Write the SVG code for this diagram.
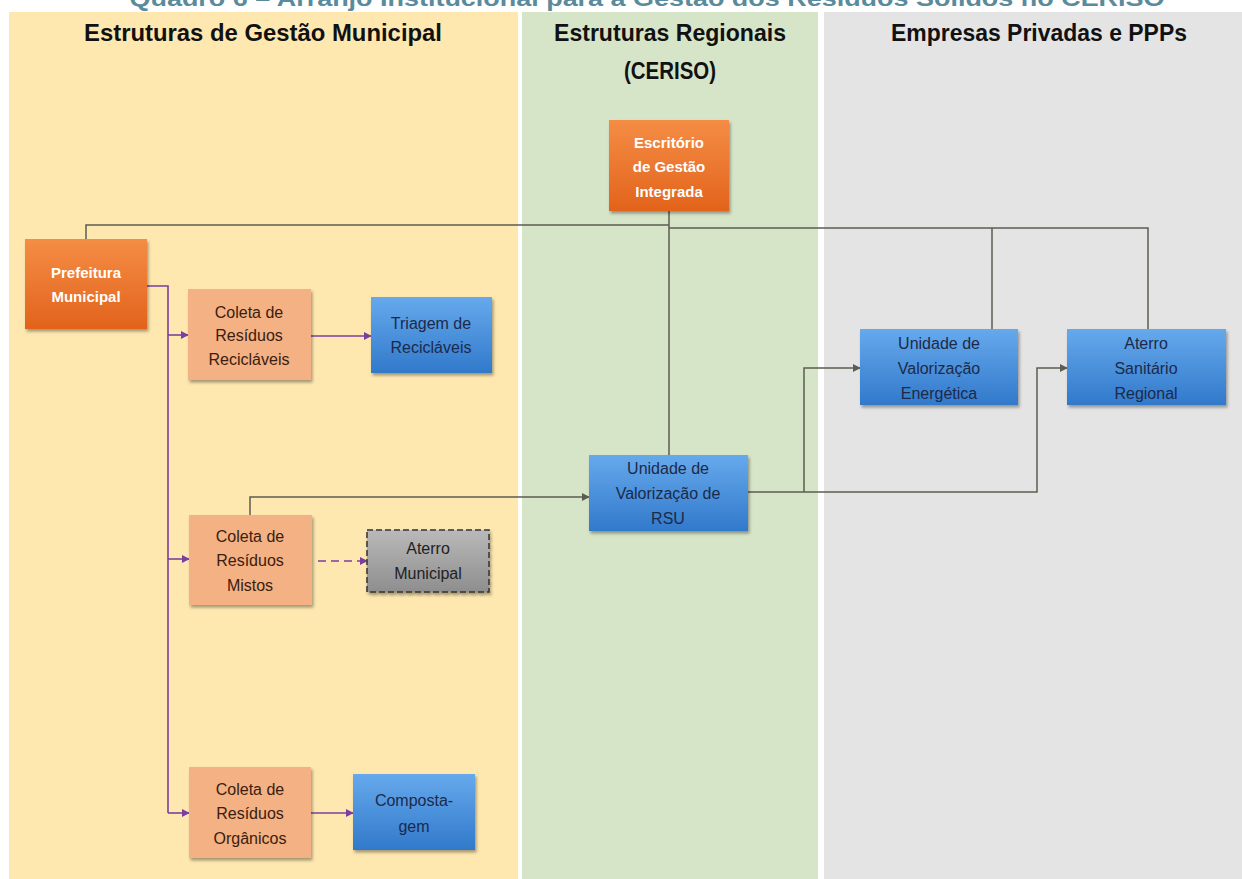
<svg xmlns="http://www.w3.org/2000/svg" width="1242" height="879" viewBox="0 0 1242 879">
<defs>
<style>
.hdr{font-family:"Liberation Sans",Arial,sans-serif;font-weight:bold;font-size:24px;fill:#111;text-anchor:middle}
.t{font-family:"Liberation Sans",Arial,sans-serif;font-size:16px;text-anchor:middle}
.tw{font-family:"Liberation Sans",Arial,sans-serif;font-size:15px;font-weight:bold;fill:#fff;text-anchor:middle}
.tb{fill:#1c2a4a}
.ts{fill:#3a2010}
.tg{fill:#222}
.gl{fill:none;stroke:#5c5c50;stroke-width:1.5}
.pl{fill:none;stroke:#7a3fa0;stroke-width:1.6}
.orange{fill:url(#gOr)}
.blue{fill:url(#gBl)}
.salmon{fill:#f4b183}
.gray{fill:url(#gGr);stroke:#333;stroke-width:1.5;stroke-dasharray:6 3}
</style>
<linearGradient id="gOr" x1="0" y1="0" x2="0" y2="1"><stop offset="0" stop-color="#f58d45"/><stop offset="1" stop-color="#e2631c"/></linearGradient>
<linearGradient id="gBl" x1="0" y1="0" x2="0" y2="1"><stop offset="0" stop-color="#66a9ec"/><stop offset="1" stop-color="#3179cb"/></linearGradient>
<linearGradient id="gGr" x1="0" y1="0" x2="0" y2="1"><stop offset="0" stop-color="#b9b9b9"/><stop offset="1" stop-color="#8e8e8e"/></linearGradient>
<filter id="sh" x="-10%" y="-10%" width="125%" height="130%"><feDropShadow dx="1.5" dy="2.5" stdDeviation="1.8" flood-color="#000" flood-opacity="0.35"/></filter>
<marker id="ap" viewBox="0 0 10 10" refX="9" refY="5" markerWidth="8" markerHeight="8" markerUnits="userSpaceOnUse" orient="auto"><path d="M0,0 L10,5 L0,10 z" fill="#7a3fa0"/></marker>
<marker id="ag" viewBox="0 0 10 10" refX="9" refY="5" markerWidth="8" markerHeight="8" markerUnits="userSpaceOnUse" orient="auto"><path d="M0,0 L10,5 L0,10 z" fill="#5c5c50"/></marker>
</defs>
<rect width="1242" height="879" fill="#ffffff"/>
<text x="647" y="6" font-family="Liberation Sans,Arial,sans-serif" font-weight="bold" font-size="22" fill="#5a8b9c" text-anchor="middle" textLength="1035" lengthAdjust="spacingAndGlyphs">Quadro 6 – Arranjo Institucional para a Gestão dos Resíduos Sólidos no CERISO</text>
<g id="panels">
<rect x="9" y="12" width="509" height="867" fill="#fee8b0"/>
<rect x="522" y="12" width="296" height="867" fill="#d6e4c8"/>
<rect x="824" y="12" width="418" height="867" fill="#e4e4e4"/>
<text class="hdr" x="263" y="41" textLength="358" lengthAdjust="spacingAndGlyphs">Estruturas  de Gestão Municipal</text>
<text class="hdr" x="670" y="41" textLength="232" lengthAdjust="spacingAndGlyphs">Estruturas  Regionais</text>
<text class="hdr" x="670" y="79" textLength="92" lengthAdjust="spacingAndGlyphs">(CERISO)</text>
<text class="hdr" x="1039" y="41" textLength="296" lengthAdjust="spacingAndGlyphs">Empresas Privadas e PPPs</text>
</g>
<g id="connectors">
<path class="gl" d="M86,239 V225 H669"/>
<path class="gl" d="M669,211 V455"/>
<path class="gl" d="M669,228 H1148 V329 M992,228 V329"/>
<path class="gl" d="M250,515 V497 H589" marker-end="url(#ag)"/>
<path class="gl" d="M748,492 H1037 V368 H1067" marker-end="url(#ag)"/>
<path class="gl" d="M804,492 V368 H860" marker-end="url(#ag)"/>
<path class="pl" d="M147,286 H168 V813"/>
<path class="pl" d="M168,335 H188" marker-end="url(#ap)"/>
<path class="pl" d="M168,559 H189" marker-end="url(#ap)"/>
<path class="pl" d="M168,813 H189" marker-end="url(#ap)"/>
<path class="pl" d="M311,336 H371" marker-end="url(#ap)"/>
<path class="pl" d="M318,561 H367" stroke-dasharray="8 5" marker-end="url(#ap)"/>
<path class="pl" d="M311,813 H353" marker-end="url(#ap)"/>
</g>
<g id="prefeitura"><rect class="orange" x="25" y="239" width="122" height="90" filter="url(#sh)"/><text class="tw" x="86" y="278">Prefeitura</text><text class="tw" x="86" y="302">Municipal</text></g>
<g id="escritorio"><rect class="orange" x="609" y="120" width="120" height="91" filter="url(#sh)"/><text class="tw" x="669" y="148">Escritório</text><text class="tw" x="669" y="172">de Gestão</text><text class="tw" x="669" y="197">Integrada</text></g>
<g id="coleta-reciclaveis"><rect class="salmon" x="188" y="289" width="123" height="91" filter="url(#sh)"/><text class="t ts" x="249" y="318">Coleta de</text><text class="t ts" x="249" y="341">Resíduos</text><text class="t ts" x="249" y="365">Recicláveis</text></g>
<g id="triagem"><rect class="blue" x="371" y="297" width="121" height="76" filter="url(#sh)"/><text class="t tb" x="431" y="329">Triagem de</text><text class="t tb" x="431" y="353">Recicláveis</text></g>
<g id="coleta-mistos"><rect class="salmon" x="189" y="515" width="123" height="90" filter="url(#sh)"/><text class="t ts" x="250" y="542">Coleta de</text><text class="t ts" x="250" y="566">Resíduos</text><text class="t ts" x="250" y="591">Mistos</text></g>
<g id="aterro-municipal"><rect class="gray" x="367" y="530" width="122" height="62" filter="url(#sh)"/><text class="t tg" x="428" y="554">Aterro</text><text class="t tg" x="428" y="579">Municipal</text></g>
<g id="coleta-organicos"><rect class="salmon" x="189" y="767" width="122" height="91" filter="url(#sh)"/><text class="t ts" x="250" y="795">Coleta de</text><text class="t ts" x="250" y="819">Resíduos</text><text class="t ts" x="250" y="844">Orgânicos</text></g>
<g id="compostagem"><rect class="blue" x="353" y="774" width="122" height="76" filter="url(#sh)"/><text class="t tb" x="414" y="806">Composta-</text><text class="t tb" x="414" y="832">gem</text></g>
<g id="uv-rsu"><rect class="blue" x="589" y="455" width="159" height="76" filter="url(#sh)"/><text class="t tb" x="668" y="474">Unidade de</text><text class="t tb" x="668" y="499">Valorização de</text><text class="t tb" x="668" y="524">RSU</text></g>
<g id="uv-energetica"><rect class="blue" x="860" y="329" width="158" height="76" filter="url(#sh)"/><text class="t tb" x="939" y="349">Unidade de</text><text class="t tb" x="939" y="374">Valorização</text><text class="t tb" x="939" y="399">Energética</text></g>
<g id="aterro-sanitario"><rect class="blue" x="1067" y="329" width="159" height="76" filter="url(#sh)"/><text class="t tb" x="1146" y="349">Aterro</text><text class="t tb" x="1146" y="374">Sanitário</text><text class="t tb" x="1146" y="399">Regional</text></g>
</svg>
